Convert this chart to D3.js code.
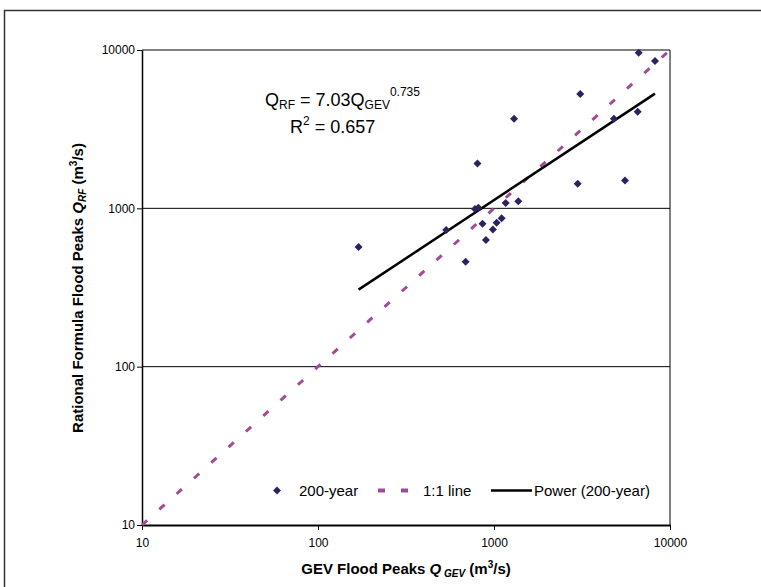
<!DOCTYPE html>
<html>
<head>
<meta charset="utf-8">
<script src="https://cdn.jsdelivr.net/npm/d3@7"></script>
<style>
  body { margin: 0; background: #fff; }
  svg { font-family: Arial, "Liberation Sans", sans-serif; }
</style>
</head>
<body>
<div id="chart"></div>
<script>
// data (m3/s)
const gevPeaks = [170, 535, 690, 780, 815, 805, 860, 900, 985, 1035, 1105, 1165, 1375, 1300, 2990, 3090, 4800, 5550, 6550, 6640, 8220];
const rfPeaks  = [570, 730, 460, 990, 1010, 1920, 800, 630, 735, 810, 865, 1080, 1110, 3680, 1430, 5280, 3680, 1500, 4080, 9610, 8530];
const oneToOne = [10, 10000];
const powerCoef = 7.03;
const powerExp = 0.735;
const axisTicks = [10, 100, 1000, 10000];
const tickLabels = ["10", "100", "1000", "10000"];

const w = 761, h = 587;
const markColor = "#30205e";
const dashColor = "#a24a98";

let svg = d3.select("#chart")
  .append("svg")
  .attr("width", w)
  .attr("height", h)

// outer chart frame (runs off the right and bottom edge)
svg.append("path")
  .attr("d", "M4.5," + (h + 5) + "V10.5H" + (w + 5))
  .attr("fill", "none")
  .attr("stroke", "#333")
  .attr("stroke-width", 1.5)

let x = d3.scaleLog().domain([10, 10000]).range([142, 670])
let y = d3.scaleLog().domain([10, 10000]).range([525, 50])

// gridlines
svg.append("g")
  .selectAll("line")
  .data(axisTicks.slice(1))
  .join("line")
  .attr("x1", x(10))
  .attr("x2", x(10000))
  .attr("y1", d => y(d))
  .attr("y2", d => y(d))
  .attr("stroke", "#000")
  .attr("stroke-width", 1)

// plot area right border
svg.append("line")
  .attr("x1", x(10000)).attr("x2", x(10000))
  .attr("y1", y(10000)).attr("y2", y(10))
  .attr("stroke", "#000")
  .attr("stroke-width", 1)

let xAxis = svg.append("g")
  .attr("transform", "translate(0," + y(10) + ")")
  .call(d3.axisBottom(x).tickValues(axisTicks).tickFormat((d, i) => tickLabels[i]).tickSize(5).tickSizeOuter(0))
xAxis.select(".domain").attr("stroke-width", 2)

let yAxis = svg.append("g")
  .attr("transform", "translate(" + x(10) + ",0)")
  .call(d3.axisLeft(y).tickValues(axisTicks).tickFormat((d, i) => tickLabels[i]).tickSize(5).tickSizeOuter(0))
yAxis.select(".domain").attr("stroke-width", 1.5)

svg.selectAll(".tick text")
  .attr("font-size", 12)
  .attr("font-family", "Arial, 'Liberation Sans', sans-serif")
  .attr("fill", "#000")
xAxis.selectAll(".tick text").attr("dy", "1.2em")
yAxis.selectAll(".tick text").attr("x", -7)

let line = d3.line()
  .x(d => x(d[0]))
  .y(d => y(d[1]))

// 1:1 line
svg.append("path")
  .datum(oneToOne.map(v => [v, v]))
  .attr("d", line)
  .attr("fill", "none")
  .attr("stroke", dashColor)
  .attr("stroke-width", 3)
  .attr("stroke-dasharray", "7,16.3")

// power trendline
let xExt = d3.extent(gevPeaks)
svg.append("path")
  .datum(xExt.map(v => [v, powerCoef * Math.pow(v, powerExp)]))
  .attr("d", line)
  .attr("fill", "none")
  .attr("stroke", "#000")
  .attr("stroke-width", 2.5)

let diamond = "M0,-4L4,0L0,4L-4,0Z"

svg.append("g")
  .selectAll("path")
  .data(gevPeaks.map((v, i) => [v, rfPeaks[i]]))
  .join("path")
  .attr("d", diamond)
  .attr("transform", d => "translate(" + x(d[0]) + "," + y(d[1]) + ")")
  .attr("fill", markColor)

// equation
let eq = svg.append("text")
  .attr("x", 265)
  .attr("y", 106)
  .attr("font-size", 18)
eq.append("tspan").text("Q")
eq.append("tspan").text("RF").attr("font-size", 12).attr("dy", 3)
eq.append("tspan").text(" = 7.03Q").attr("dy", -3)
eq.append("tspan").text("GEV").attr("font-size", 12).attr("dy", 3)
eq.append("tspan").text("0.735").attr("font-size", 12).attr("dy", -13)

let r2 = svg.append("text")
  .attr("x", 290)
  .attr("y", 133)
  .attr("font-size", 18)
r2.append("tspan").text("R")
r2.append("tspan").text("2").attr("font-size", 12).attr("dy", -8)
r2.append("tspan").text(" = 0.657").attr("dy", 8)

// legend
let lg = svg.append("g").attr("font-size", 15)
lg.append("path").attr("d", diamond).attr("transform", "translate(277,490.5)").attr("fill", markColor)
lg.append("text").attr("x", 299).attr("y", 495.5).text("200-year")
lg.append("line")
  .attr("x1", 378).attr("x2", 409).attr("y1", 490.5).attr("y2", 490.5)
  .attr("stroke", dashColor).attr("stroke-width", 4).attr("stroke-dasharray", "7,16")
lg.append("text").attr("x", 423).attr("y", 495.5).text("1:1 line")
lg.append("line")
  .attr("x1", 491).attr("x2", 532).attr("y1", 490.5).attr("y2", 490.5)
  .attr("stroke", "#000").attr("stroke-width", 2.5)
lg.append("text").attr("x", 534).attr("y", 495.5).text("Power (200-year)")

// axis titles
let xt = svg.append("text")
  .attr("x", 406)
  .attr("y", 574)
  .attr("text-anchor", "middle")
  .attr("font-size", 15)
  .attr("font-weight", "bold")
xt.append("tspan").text("GEV Flood Peaks ")
xt.append("tspan").text("Q").attr("font-style", "italic")
xt.append("tspan").text(" GEV").attr("font-style", "italic").attr("font-size", 10).attr("dy", 3)
xt.append("tspan").text("  (m").attr("dy", -3)
xt.append("tspan").text("3").attr("font-size", 10).attr("dy", -6)
xt.append("tspan").text("/s)").attr("dy", 6)

let yt = svg.append("text")
  .attr("transform", "translate(83,288) rotate(-90)")
  .attr("text-anchor", "middle")
  .attr("font-size", 15)
  .attr("font-weight", "bold")
yt.append("tspan").text("Rational Formula Flood Peaks ")
yt.append("tspan").text("Q").attr("font-style", "italic")
yt.append("tspan").text("RF").attr("font-style", "italic").attr("font-size", 10).attr("dy", 3)
yt.append("tspan").text("  (m").attr("dy", -3)
yt.append("tspan").text("3").attr("font-size", 10).attr("dy", -6)
yt.append("tspan").text("/s)").attr("dy", 6)
</script>
</body>
</html>
